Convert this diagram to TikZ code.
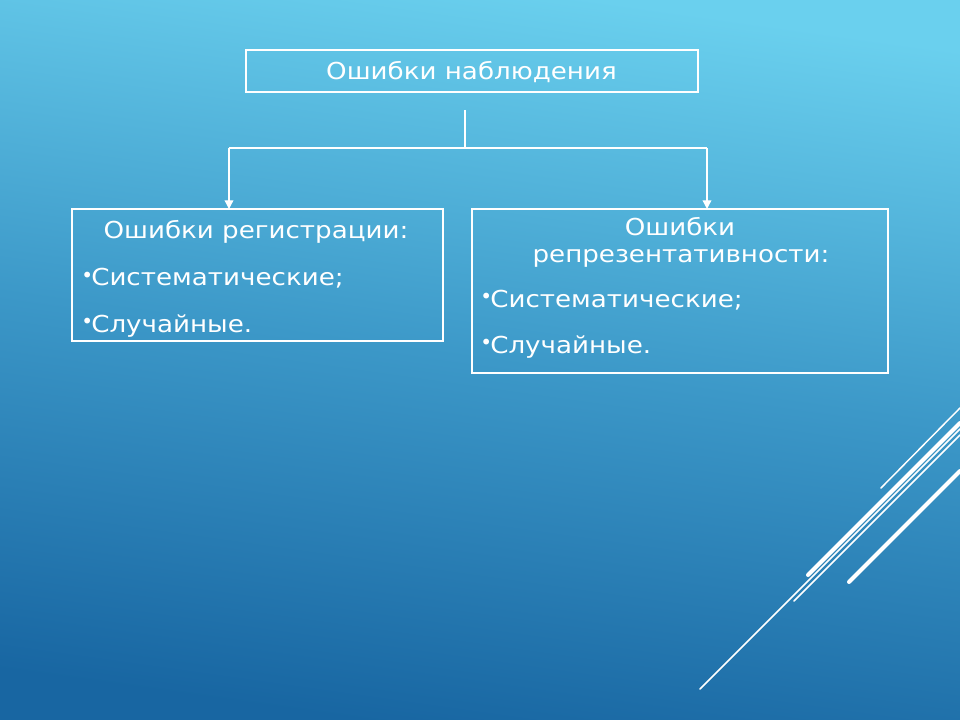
\documentclass[tikz,border=0pt]{standalone}
\usepackage{fontspec}
\setmainfont{DejaVu Sans}[FakeStretch=1.12]
\newfontfamily\bulfont{DejaVu Sans}
\usetikzlibrary{arrows.meta}

\definecolor{skytop}{RGB}{106,208,238}
\definecolor{skymid}{RGB}{60,152,200}
\definecolor{skylow}{RGB}{24,102,162}

\tikzset{
  frame/.style={draw=white, line width=1pt, inner sep=0pt, outer sep=0pt},
  txt/.style={text=white, inner sep=0pt, font=\fontsize{17.5pt}{21pt}\selectfont},
  link/.style={draw=white, line width=1pt},
  streak/.style={white, line cap=round}
}

\newcommand{\bul}{\makebox[6pt]{\raisebox{2.4pt}{\bulfont\fontsize{15pt}{15pt}\selectfont •}}}

\begin{document}
\begin{tikzpicture}[x=0.75pt,y=-0.75pt]

\useasboundingbox (0,0) rectangle (960,720) ;
\shade[top color=skytop, bottom color=skylow, middle color=skymid, shading angle=-8] (0,0) rectangle (960,720) ;

% boxes
\node[frame, minimum width=339pt, minimum height=31.5pt] (obs) at (472,71) {} ;
\node[frame, minimum width=278.25pt, minimum height=99pt] (reg) at (257.5,275) {} ;
\node[frame, minimum width=312pt, minimum height=123pt] (repr) at (680,291) {} ;

% texts
\node[txt, anchor=base] (obsHead) at (471.5,80) {Ошибки наблюдения} ;

\node[txt, anchor=base] (regHead) at (256,239) {Ошибки регистрации:} ;
\node[txt, anchor=base west] (regSys) at (83,286) {\bul Систематические;} ;
\node[txt, anchor=base west] (regRnd) at (83,332) {\bul Случайные.} ;

\node[txt, anchor=base] (reprHead) at (680,236) {Ошибки} ;
\node[txt, anchor=base] (reprHeadB) at (681,263) {репрезентативности:} ;
\node[txt, anchor=base west] (reprSys) at (482,307) {\bul Систематические;} ;
\node[txt, anchor=base west] (reprRnd) at (482,353) {\bul Случайные.} ;

% connectors
\coordinate (stem) at (465,110) ;
\coordinate (fork) at (465,148) ;
\coordinate (forkL) at (229,148) ;
\coordinate (forkR) at (707,148) ;

\draw[link] (stem) -- (fork) ;
\draw[link] (forkL) -- (forkR) ;
\draw[link, -{Triangle[width=6.5pt,length=6.5pt]}] (forkL) -- (forkL |- reg.north) ;
\draw[link, -{Triangle[width=6.5pt,length=6.5pt]}] (forkR) -- (forkR |- repr.north) ;

% streaks in the corner
\draw[streak, line width=1.1pt] (881,488) -- (960,408) ;
\draw[streak, line width=3pt] (808,575) -- (960,423) ;
\draw[streak, line width=1.1pt] (700,689) -- (960,429) ;
\draw[streak, line width=1.1pt] (794,601) -- (960,435) ;
\draw[streak, line width=3pt] (849,582) -- (960,471) ;

\end{tikzpicture}
\end{document}
